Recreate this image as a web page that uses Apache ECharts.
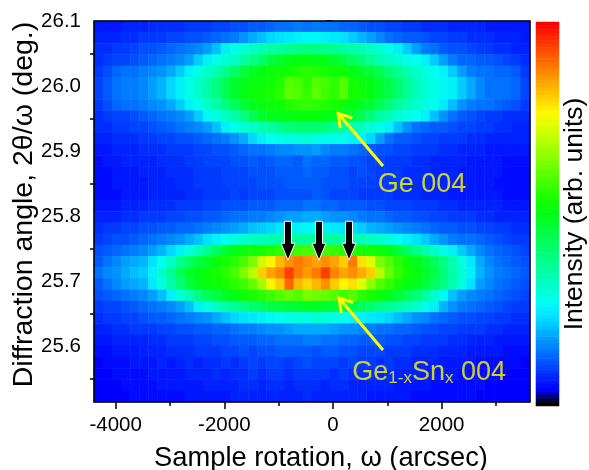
<!DOCTYPE html>
<html><head><meta charset="utf-8">
<style>html,body{margin:0;padding:0;background:#fff}#c{width:589px;height:470px}</style>
<script src="https://cdn.jsdelivr.net/npm/echarts@6/dist/echarts.min.js"></script>
</head><body><div id="c"></div>
<script>
// Intensity, top row (high 2theta) first, left column (low omega) first.
const intensity = [
[2,2,2,3,3,3,4,4,4,4,5,5,5,6,6,7,7,8,8,9,10,10,11,10,11,10,10,9,9,8,7,7,6,6,5,5,4,4,4,3,3,3,3,2,2,2,2,2],
[3,3,3,4,4,5,5,5,6,6,7,7,8,9,10,11,13,15,17,19,20,21,22,23,23,22,21,20,18,16,14,12,10,9,8,8,7,6,6,5,5,4,4,4,3,3,3,2],
[4,4,5,5,6,7,7,8,9,10,11,12,14,17,22,25,27,29,31,32,33,34,35,36,36,35,34,33,32,31,29,27,25,22,18,14,11,10,8,7,7,6,5,5,4,4,3,3],
[4,5,6,6,7,8,9,10,11,12,14,18,22,25,27,29,32,35,39,43,45,47,48,49,48,47,45,43,40,37,34,31,29,27,25,24,22,18,14,11,9,9,8,8,7,6,5,4],
[5,7,9,10,10,11,12,13,15,18,22,25,28,31,35,39,43,46,48,50,51,52,53,54,53,52,51,50,48,46,44,41,37,34,31,28,26,24,22,18,14,11,10,10,9,9,8,5],
[6,8,10,11,11,12,14,16,19,22,25,28,32,36,41,45,47,49,50,51,53,58,57,54,58,57,54,58,52,50,48,45,42,38,34,30,27,25,23,22,18,15,12,10,10,10,9,6],
[6,8,10,11,11,12,14,16,19,22,25,28,32,36,41,45,48,50,51,52,54,59,58,55,59,56,54,58,52,51,48,45,42,38,34,30,27,25,23,22,18,15,12,10,10,10,9,6],
[5,7,9,10,10,11,12,13,15,18,22,25,28,32,36,40,44,47,49,50,51,53,54,55,54,53,52,50,48,46,44,41,37,33,30,28,26,24,21,17,13,11,10,10,9,8,7,5],
[4,5,6,6,7,8,9,10,11,12,14,18,23,26,29,32,36,41,45,47,48,48,49,49,49,48,47,46,44,41,37,33,30,27,25,24,22,17,13,10,8,7,6,5,5,4,4,4],
[4,4,5,5,6,6,7,8,9,10,11,12,14,17,22,25,27,29,31,33,35,37,38,38,38,37,35,33,31,29,27,25,22,17,13,10,9,8,8,7,6,6,5,5,4,4,3,3],
[3,3,4,4,4,5,5,6,6,7,7,8,9,10,11,13,15,19,22,24,25,26,26,27,26,25,25,24,22,22,19,14,10,8,8,7,6,6,5,5,5,4,4,3,3,3,3,3],
[2,2,3,3,3,4,4,4,5,5,5,6,6,7,7,8,9,10,10,11,12,12,13,13,14,12,11,11,10,9,8,7,7,6,6,5,5,5,4,4,3,3,3,2,2,2,2,2],
[1,2,2,3,3,3,3,4,4,4,5,5,6,6,6,7,7,8,7,8,9,9,8,10,9,9,8,8,7,7,6,6,5,5,5,4,4,3,3,3,3,2,2,2,2,1,1,1],
[1,1,2,2,2,3,3,3,4,4,4,5,5,5,6,6,6,7,7,7,8,8,8,9,8,8,7,7,6,7,6,5,5,5,4,4,4,3,3,3,2,2,2,2,2,1,1,1],
[1,1,2,2,2,2,3,3,3,4,4,5,5,5,6,6,6,6,7,7,7,8,8,8,8,7,7,7,6,6,6,5,5,5,4,4,4,3,3,3,2,2,2,2,1,1,1,1],
[1,1,1,2,2,2,3,3,3,3,4,4,5,5,5,6,5,6,6,6,7,7,7,7,8,7,6,6,6,5,5,5,5,4,4,4,3,3,3,2,2,2,2,2,2,1,1,1],
[2,2,2,3,3,3,4,4,4,5,5,5,6,6,7,7,7,8,8,8,9,9,9,10,10,9,9,8,8,8,7,7,6,6,6,5,5,5,4,4,3,3,3,3,3,2,2,2],
[3,3,3,4,4,5,5,5,6,6,7,7,8,8,9,10,10,11,11,12,13,14,14,15,15,14,13,13,12,11,10,10,9,8,8,7,7,6,6,5,5,5,4,4,3,3,3,3],
[4,5,5,6,6,7,7,8,8,9,9,10,11,12,13,14,15,17,18,19,21,22,22,23,24,22,21,20,19,18,16,15,14,13,12,11,10,9,8,8,7,7,6,6,5,5,4,4],
[5,6,7,7,8,9,10,11,12,13,15,17,20,22,24,26,28,29,30,31,32,33,33,33,34,33,33,32,31,30,29,28,26,24,22,20,18,15,13,11,10,10,9,8,7,6,5,5],
[7,8,9,10,11,12,14,16,19,22,26,30,35,40,45,48,50,51,52,53,54,55,56,57,57,56,55,54,53,52,51,50,48,44,40,36,32,28,25,22,18,15,12,10,9,8,7,6],
[8,10,12,14,15,16,20,24,29,34,39,43,46,49,52,54,57,62,70,76,82,86,88,86,84,86,84,80,88,78,72,62,58,54,50,47,44,40,36,31,26,21,15,12,10,9,8,7],
[10,12,13,15,17,18,22,28,34,40,45,48,50,52,54,57,62,68,80,84,87,94,88,85,88,94,87,84,86,83,80,68,60,55,52,49,46,42,37,32,27,22,16,13,11,10,9,8],
[8,10,12,14,15,16,21,26,32,37,43,47,49,50,52,54,56,60,66,76,80,90,82,79,82,86,80,76,78,72,64,58,55,52,49,47,44,40,36,31,26,20,14,12,10,9,8,7],
[7,8,9,10,11,12,14,17,22,27,31,36,40,43,46,48,50,52,54,56,58,60,58,62,61,60,58,56,58,54,52,50,47,44,41,37,33,28,23,17,14,12,11,10,9,8,7,6],
[5,6,6,7,8,9,10,11,12,14,17,22,26,29,32,34,36,38,40,42,43,44,45,46,46,45,44,43,42,40,38,36,34,32,30,28,25,22,16,13,11,10,9,8,7,6,5,5],
[4,5,5,6,6,7,8,8,9,10,11,12,13,15,17,19,20,21,22,23,24,25,26,26,27,26,25,24,23,22,21,20,19,17,15,13,12,10,9,8,7,7,6,6,5,5,4,4],
[3,3,4,4,5,5,5,6,6,7,7,8,8,9,9,10,11,11,12,13,13,14,15,15,15,15,14,13,13,12,11,10,10,9,9,8,7,7,6,6,5,5,5,4,4,3,3,3],
[2,2,3,3,3,3,4,4,5,5,5,6,6,7,7,8,8,8,9,9,10,10,10,11,11,10,10,9,9,8,8,8,7,7,6,6,5,5,5,4,4,3,3,3,2,2,2,2],
[1,1,2,2,2,3,3,3,4,4,4,5,5,5,6,6,7,6,7,7,8,8,8,8,7,8,8,7,7,6,6,6,5,5,5,4,4,4,3,3,3,2,2,2,2,1,1,1],
[0,1,1,1,2,2,2,3,2,3,4,3,4,4,5,4,5,6,5,6,6,5,6,7,6,6,6,5,6,5,5,4,5,4,4,3,3,3,2,2,2,2,1,1,1,1,1,0],
[0,0,1,1,1,1,2,2,2,2,3,3,3,4,3,4,4,5,4,5,5,4,5,5,5,5,4,5,4,4,4,3,4,3,3,3,2,2,2,2,1,1,1,1,1,0,0,0],
[0,0,0,1,1,1,1,2,2,2,2,2,3,3,3,3,4,4,3,4,4,3,4,4,4,3,4,4,3,3,3,3,3,2,2,2,2,1,1,1,1,1,1,0,0,0,0,0],
[0,0,0,0,1,1,1,1,1,1,2,2,2,2,2,3,3,3,3,3,3,3,3,4,3,3,3,3,3,3,2,2,2,2,2,1,1,1,1,1,1,1,0,0,0,0,0,0]
];
const xRange = [-4399, 3626];
const yRange = [25.514, 26.1];
const xLabelTicks = [-4000, -2000, 0, 2000];
const xMinorTicks = [-3000, -1000, 1000, 3000];
const yLabelTicks = [25.6, 25.7, 25.8, 25.9, 26.0, 26.1];
const yMinorTicks = [25.55, 25.65, 25.75, 25.85, 25.95, 26.05];
const scaleColors = ['#000000','#0000ff','#002dff','#005bff','#0088ff','#00b5ff','#00e3ff','#00fff1','#00ffcc','#00ffa7','#00ff82','#00ff5d','#00ff38','#00ff13','#14ff00','#3dff00','#66ff00','#8fff00','#b8ff00','#e0ff00','#fff500','#ffcc00','#ffa300','#ff7a00','#ff5200','#ff2900','#ff0000'];
const scaleRange = [-4, 100];
// [tail x, tail y, tip x, tip y] in axis units
const yellowArrows = [[920, 25.877, 92, 25.958],[920, 25.594, 110, 25.674]];
const blackArrows = [[-828, 25.792, -828, 25.732],[-258, 25.792, -258, 25.732],[295, 25.792, 295, 25.732]];
// [x, y, label key]
const peakLabels = [[1640, 25.848, 'ge'],[1770, 25.560, 'gesn']];

const FONT = '"Liberation Sans", Arial, sans-serif';
const cells = [];
intensity.forEach((r, j) => r.forEach((v, i) => cells.push([i, j, v])));
const xCats = intensity[0].map((_, i) => String(i));
const yCats = intensity.map((_, j) => String(j));
const barLevels = [];
for (let v = scaleRange[1]; v >= scaleRange[0]; v--) barLevels.push(v);
const barCells = barLevels.map((v, j) => [0, j, v]);

function valueX(extra) {
  return Object.assign({type:'value', gridIndex:0, position:'bottom', min:xRange[0], max:xRange[1],
    splitLine:{show:false}, axisLine:{show:false}}, extra);
}
function valueY(extra) {
  return Object.assign({type:'value', gridIndex:0, position:'left', min:yRange[0], max:yRange[1],
    splitLine:{show:false}, axisLine:{show:false}}, extra);
}
const tickStyle = {color:'#000', width:1.5};
const option = {
  animation:false,
  backgroundColor:'#fff',
  textStyle:{fontFamily:FONT},
  grid:[
    {left:94, top:21, width:436, height:381, outerBoundsMode:'none', show:true, borderColor:'#000', borderWidth:1.5, backgroundColor:'transparent', z:5},
    {left:536, top:22, width:23, height:384, outerBoundsMode:'none'}
  ],
  visualMap:{type:'continuous', show:false, min:scaleRange[0], max:scaleRange[1], dimension:2, seriesIndex:[0,1], inRange:{color:scaleColors}},
  xAxis:[
    {type:'category', gridIndex:0, data:xCats, show:false},
    valueX({
      name:'Sample rotation, ω (arcsec)', nameLocation:'middle', nameGap:43,
      nameTextStyle:{fontSize:27.3, color:'#000', fontFamily:FONT, padding:[0,0,0,18]},
      axisTick:{show:true, length:7, lineStyle:tickStyle, customValues:xLabelTicks},
      axisLabel:{show:true, fontSize:20.5, color:'#000', margin:13, fontFamily:FONT, customValues:xLabelTicks, formatter:v=>String(v)}
    }),
    valueX({axisTick:{show:true, length:4, lineStyle:tickStyle, customValues:xMinorTicks}, axisLabel:{show:false}}),
    {type:'category', gridIndex:1, data:['0'], show:false}
  ],
  yAxis:[
    {type:'category', gridIndex:0, data:yCats, show:false, inverse:true},
    valueY({
      name:'Diffraction angle, 2θ/ω (deg.)', nameLocation:'middle', nameGap:55, nameMoveOverlap:false,
      nameTextStyle:{fontSize:28.5, color:'#000', fontFamily:FONT, padding:[0,0,0,14]},
      axisTick:{show:true, length:7, lineStyle:tickStyle, customValues:yLabelTicks},
      axisLabel:{show:true, fontSize:20.5, color:'#000', margin:13, fontFamily:FONT, customValues:yLabelTicks, formatter:v=>Number(v).toFixed(1)}
    }),
    valueY({axisTick:{show:true, length:4, lineStyle:tickStyle, customValues:yMinorTicks}, axisLabel:{show:false}}),
    {type:'category', gridIndex:1, position:'right', data:barLevels.map(String), inverse:true,
      axisLine:{show:false}, axisTick:{show:false}, axisLabel:{show:false},
      name:'Intensity (arb. units)', nameLocation:'middle', nameGap:2, nameRotate:90,
      nameTextStyle:{fontSize:26.5, color:'#000', fontFamily:FONT, verticalAlign:'top'}}
  ],
  series:[
    {type:'heatmap', xAxisIndex:0, yAxisIndex:0, data:cells, silent:true, z:1, progressive:0},
    {type:'heatmap', xAxisIndex:3, yAxisIndex:3, data:barCells, silent:true, z:1, progressive:0},
    {type:'custom', xAxisIndex:1, yAxisIndex:1, z:6, silent:true, clip:false,
      data:yellowArrows, encode:{x:[0,2], y:[1,3]},
      renderItem:(p, api) => {
        const a = api.coord([api.value(0), api.value(1)]);
        const b = api.coord([api.value(2), api.value(3)]);
        const ang = Math.atan2(a[1]-b[1], a[0]-b[0]);
        const h = 15, s = 0.55;
        const h1 = [b[0]+h*Math.cos(ang+s), b[1]+h*Math.sin(ang+s)];
        const h2 = [b[0]+h*Math.cos(ang-s), b[1]+h*Math.sin(ang-s)];
        const st = {stroke:'#ffff00', lineWidth:3, fill:null, lineJoin:'miter'};
        return {type:'group', children:[
          {type:'line', shape:{x1:a[0], y1:a[1], x2:b[0], y2:b[1]}, style:st},
          {type:'polyline', shape:{points:[h1,b,h2]}, style:st}
        ]};
      }},
    {type:'custom', xAxisIndex:1, yAxisIndex:1, z:6, silent:true, clip:false,
      data:blackArrows, encode:{x:[0,2], y:[1,3]},
      renderItem:(p, api) => {
        const a = api.coord([api.value(0), api.value(1)]);
        const b = api.coord([api.value(2), api.value(3)]);
        const sw = 3.5, hw = 7, hl = 17;
        return {type:'polygon', shape:{points:[
          [a[0]-sw,a[1]],[a[0]+sw,a[1]],[a[0]+sw,b[1]-hl],[a[0]+hw,b[1]-hl],[b[0],b[1]],[a[0]-hw,b[1]-hl],[a[0]-sw,b[1]-hl]
        ]}, style:{fill:'#000', stroke:'#fff', lineWidth:1}};
      }},
    {type:'scatter', xAxisIndex:1, yAxisIndex:1, z:6, silent:true, symbolSize:0,
      data:peakLabels,
      label:{show:true, position:'inside', color:'#ffff00', fontFamily:FONT,
        formatter:p => p.data[2]==='ge' ? '{a|Ge 004}' : '{a|Ge}{s|1-x}{a|Sn}{s|x}{a| 004}',
        rich:{a:{fontSize:27, color:'#ffff00', fontFamily:FONT, lineHeight:30},
              s:{fontSize:17, color:'#ffff00', fontFamily:FONT, lineHeight:30, verticalAlign:'bottom', padding:[9,0,0,0]}}}}
  ]
};
echarts.init(document.getElementById('c'), null, {renderer:'canvas'}).setOption(option);
</script></body></html>
